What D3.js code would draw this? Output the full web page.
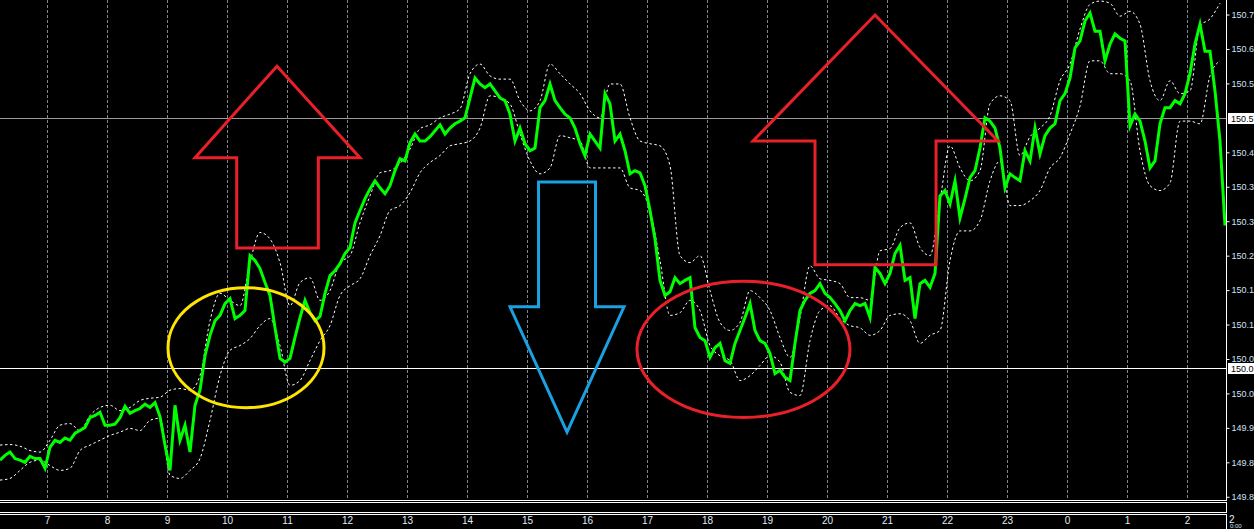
<!DOCTYPE html>
<meta charset="utf-8">
<style>
    body {
        margin: 0;
        background: #000;
        overflow: hidden;
    }

    text {
        font-family: "Liberation Sans", Arial, sans-serif;
    }

</style>
<svg id="canvas" width="1254" height="529"></svg>
<script src="https://d3js.org/d3.v7.min.js"></script>
<script>

    // USDJPY, M1 chart, one value every 5 minutes from 06:13
    var startTime = new Date(2023, 9, 17, 6, 13);
    var priceStep = 5;
    var price = [
        149.881, 149.890, 149.896, 149.884, 149.881, 149.877, 149.888, 149.884, 149.884, 149.866,
        149.905, 149.918, 149.914, 149.922, 149.918, 149.931, 149.936, 149.942, 149.960, 149.964,
        149.970, 149.946, 149.946, 149.948, 149.960, 149.981, 149.968, 149.973, 149.977, 149.985,
        149.979, 149.988, 149.962, 149.909, 149.862, 149.983, 149.918, 149.946, 149.896, 149.983,
        150.011, 150.075, 150.113, 150.140, 150.150, 150.172, 150.181, 150.144, 150.150, 150.159,
        150.261, 150.252, 150.237, 150.211, 150.187, 150.127, 150.070, 150.063, 150.070, 150.109,
        150.146, 150.178, 150.155, 150.140, 150.148, 150.191, 150.224, 150.233, 150.246, 150.265,
        150.276, 150.322, 150.345, 150.367, 150.385, 150.400, 150.387, 150.376, 150.391, 150.419,
        150.441, 150.437, 150.471, 150.487, 150.474, 150.474, 150.482, 150.493, 150.504, 150.487,
        150.498, 150.506, 150.511, 150.517, 150.554, 150.591, 150.580, 150.573, 150.580, 150.567,
        150.554, 150.549, 150.524, 150.474, 150.498, 150.469, 150.456, 150.461, 150.536, 150.549,
        150.580, 150.549, 150.536, 150.524, 150.517, 150.498, 150.469, 150.447, 150.487, 150.474,
        150.461, 150.562, 150.543, 150.474, 150.487, 150.456, 150.413, 150.419, 150.415, 150.391,
        150.345, 150.292, 150.215, 150.187, 150.194, 150.220, 150.209, 150.215, 150.220, 150.127,
        150.109, 150.103, 150.072, 150.090, 150.098, 150.066, 150.061, 150.098, 150.122, 150.146,
        150.172, 150.122, 150.103, 150.098, 150.079, 150.042, 150.048, 150.035, 150.029, 150.098,
        150.159, 150.178, 150.191, 150.196, 150.209, 150.191, 150.183, 150.172, 150.159, 150.140,
        150.159, 150.172, 150.168, 150.172, 150.146, 150.239, 150.228, 150.209, 150.228, 150.265,
        150.280, 150.215, 150.220, 150.144, 150.209, 150.215, 150.202, 150.228, 150.372, 150.382,
        150.357, 150.400, 150.331, 150.367, 150.406, 150.419, 150.461, 150.517, 150.511, 150.498,
        150.461, 150.387, 150.413, 150.406, 150.400, 150.456, 150.437, 150.498, 150.450, 150.484,
        150.498, 150.506, 150.549, 150.562, 150.591, 150.647, 150.660, 150.697, 150.712, 150.678,
        150.678, 150.623, 150.654, 150.673, 150.665, 150.660, 150.502, 150.524, 150.511, 150.474,
        150.424, 150.437, 150.506, 150.536, 150.536, 150.549, 150.543, 150.562, 150.599, 150.654,
        150.691, 150.641, 150.641, 150.567, 150.474, 150.317
    ];

    // envelope bands, one value every 10 minutes from 06:13
    var bandStep = 10;
    var upperBand = [
        149.909, 149.910, 149.907, 149.899, 149.896, 149.918, 149.946, 149.949, 149.936, 149.964,
        149.979, 149.983, 149.973, 149.979, 149.992, 149.996, 149.998, 150.011, 150.014, 150.011,
        150.038, 150.140, 150.191, 150.178, 150.168, 150.248, 150.304, 150.292, 150.248, 150.168,
        150.211, 150.220, 150.178, 150.196, 150.248, 150.261, 150.322, 150.372, 150.415, 150.419,
        150.432, 150.459, 150.497, 150.504, 150.517, 150.524, 150.534, 150.599, 150.617, 150.595,
        150.589, 150.589, 150.549, 150.530, 150.549, 150.617, 150.599, 150.580, 150.562, 150.530,
        150.517, 150.580, 150.580, 150.517, 150.474, 150.469, 150.465, 150.428, 150.261, 150.248,
        150.261, 150.196, 150.137, 150.122, 150.137, 150.196, 150.183, 150.159, 150.109, 150.072,
        150.146, 150.242, 150.218, 150.215, 150.209, 150.183, 150.183, 150.178, 150.270, 150.274,
        150.313, 150.322, 150.276, 150.261, 150.363, 150.465, 150.424, 150.400, 150.419, 150.543,
        150.558, 150.549, 150.447, 150.482, 150.498, 150.521, 150.586, 150.617, 150.682, 150.728,
        150.734, 150.730, 150.706, 150.715, 150.691, 150.586, 150.549, 150.586, 150.562, 150.567,
        150.688, 150.701, 150.730
    ];
    var lowerBand = [
        149.844, 149.847, 149.862, 149.877, 149.881, 149.871, 149.862, 149.866, 149.899, 149.909,
        149.918, 149.927, 149.933, 149.940, 149.936, 149.955, 149.959, 149.853, 149.847, 149.862,
        149.884, 149.955, 150.038, 150.085, 150.094, 150.107, 150.131, 150.144, 150.094, 150.020,
        150.029, 150.066, 150.103, 150.131, 150.187, 150.205, 150.218, 150.261, 150.298, 150.345,
        150.354, 150.378, 150.415, 150.434, 150.447, 150.465, 150.469, 150.474, 150.498, 150.558,
        150.554, 150.543, 150.487, 150.437, 150.413, 150.424, 150.484, 150.480, 150.474, 150.424,
        150.424, 150.424, 150.424, 150.387, 150.382, 150.345, 150.252, 150.150, 150.155, 150.178,
        150.159, 150.094, 150.075, 150.066, 150.029, 150.038, 150.057, 150.075, 150.063, 150.007,
        150.001, 150.103, 150.159, 150.168, 150.144, 150.131, 150.127, 150.113, 150.122, 150.150,
        150.153, 150.140, 150.098, 150.113, 150.122, 150.252, 150.307, 150.307, 150.326, 150.400,
        150.437, 150.354, 150.354, 150.363, 150.382, 150.424, 150.443, 150.487, 150.539, 150.623,
        150.623, 150.599, 150.599, 150.586, 150.456, 150.391, 150.382, 150.396, 150.511, 150.511,
        150.506, 150.595, 150.623
    ];

    // price axis labels (MT4 style grid step)
    var priceTicks = [149.813, 149.877, 149.941, 150.005, 150.069, 150.133, 150.197, 150.261,
                      150.325, 150.389, 150.453, 150.581, 150.645, 150.709];
    // horizontal lines with their marker boxes
    var levels = [
        {price: 150.517, color: "#9a9a9a"},
        {price: 150.052, color: "#ffffff"}
    ];

    // hand drawn annotations: [hour of day, price]
    var arrowSmallUp = [[10.833, 150.613], [12.217, 150.443], [11.522, 150.443], [11.522, 150.275],
                        [10.162, 150.275], [10.162, 150.443], [9.467, 150.443]];
    var arrowDown = [[15.192, 150.398], [16.142, 150.398], [16.142, 150.166], [16.617, 150.166],
                     [15.667, 149.933], [14.717, 150.166], [15.192, 150.166]];
    var arrowBigUp = [[20.8, 150.708], [22.85, 150.474], [21.817, 150.474], [21.817, 150.244],
                      [19.8, 150.244], [19.8, 150.474], [18.767, 150.474]];
    // ellipses: center hour, center price, half width in minutes, half height in price
    var ellipses = [
        {hour: 10.317, price: 150.090, rMin: 78, rPrice: 0.1115, color: "#ffe600"},
        {hour: 18.608, price: 150.087, rMin: 106.5, rPrice: 0.1265, color: "#e8202a"}
    ];

    var svg = d3.select("svg"),
        width = 1254,
        height = 529,
        plotW = 1226,
        plotH = 500;

    var endTime = new Date(startTime.getTime() + plotW * 60000);

    var x = d3.scaleTime().domain([startTime, endTime]).range([0, plotW]);
    var y = d3.scaleLinear().domain([149.807, 150.736]).range([plotH, 0]);

    // the price panel is too narrow for the whole quote, it shows the first decimal only
    var shortPrice = function(d) { return (Math.floor(d * 10 + 1e-6) / 10).toFixed(1); };

    var timeAt = function(i, step) { return new Date(startTime.getTime() + i * step * 60000); };
    var timeOfHour = function(h) {
        var d = new Date(startTime);
        d.setHours(0, 0, 0, 0);
        return new Date(d.getTime() + h * 3600000);
    };

    svg.append("rect").attr("width", width).attr("height", height).attr("fill", "#000");

    // vertical hour grid
    var hours = d3.timeHour.range(startTime, endTime);
    svg.append("g")
       .selectAll("line")
       .data(hours)
       .enter().append("line")
       .attr("x1", function(d) { return Math.round(x(d)) + 0.5; })
       .attr("x2", function(d) { return Math.round(x(d)) + 0.5; })
       .attr("y1", 0)
       .attr("y2", plotH - 1)
       .attr("stroke", "#7d8590")
       .attr("stroke-dasharray", "3,2");

    // level lines
    svg.append("g")
       .selectAll("line")
       .data(levels)
       .enter().append("line")
       .attr("x1", 0)
       .attr("x2", plotW)
       .attr("y1", function(d) { return Math.round(y(d.price)) + 0.5; })
       .attr("y2", function(d) { return Math.round(y(d.price)) + 0.5; })
       .attr("stroke", function(d) { return d.color; });

    // envelope
    var bandLine = d3.line()
                     .x(function(d, i) { return x(timeAt(i, bandStep)); })
                     .y(function(d) { return y(d); })
                     .curve(d3.curveMonotoneX);

    svg.append("g")
       .selectAll("path")
       .data([upperBand, lowerBand])
       .enter().append("path")
       .attr("d", bandLine)
       .attr("fill", "none")
       .attr("stroke", "#ffffff")
       .attr("stroke-width", 1)
       .attr("stroke-dasharray", "2.5,2.5");

    // price
    var priceLine = d3.line()
                      .x(function(d, i) { return x(timeAt(i, priceStep)); })
                      .y(function(d) { return y(d); });

    svg.append("path")
       .datum(price)
       .attr("d", priceLine)
       .attr("fill", "none")
       .attr("stroke", "#00ff00")
       .attr("stroke-width", 3)
       .attr("stroke-linejoin", "miter")
       .attr("stroke-miterlimit", 6);

    // annotations
    var shapeLine = d3.line()
                      .x(function(d) { return x(timeOfHour(d[0])); })
                      .y(function(d) { return y(d[1]); })
                      .curve(d3.curveLinearClosed);

    svg.append("path").attr("d", shapeLine(arrowSmallUp))
       .attr("fill", "none").attr("stroke", "#e8202a").attr("stroke-width", 3);
    svg.append("path").attr("d", shapeLine(arrowDown))
       .attr("fill", "none").attr("stroke", "#1ba1e2").attr("stroke-width", 3);
    svg.append("path").attr("d", shapeLine(arrowBigUp))
       .attr("fill", "none").attr("stroke", "#e8202a").attr("stroke-width", 3);

    svg.append("g")
       .selectAll("ellipse")
       .data(ellipses)
       .enter().append("ellipse")
       .attr("cx", function(d) { return x(timeOfHour(d.hour)); })
       .attr("cy", function(d) { return y(d.price); })
       .attr("rx", function(d) { return x(timeOfHour(d.hour + d.rMin / 60)) - x(timeOfHour(d.hour)); })
       .attr("ry", function(d) { return y(d.price - d.rPrice) - y(d.price); })
       .attr("fill", "none")
       .attr("stroke", function(d) { return d.color; })
       .attr("stroke-width", 3);

    // frame
    var frame = svg.append("g").attr("stroke", "#ffffff").attr("fill", "none");
    frame.append("line").attr("x1", plotW + 0.5).attr("x2", plotW + 0.5).attr("y1", 0).attr("y2", plotH + 1);
    frame.append("line").attr("x1", 0).attr("x2", plotW + 1).attr("y1", plotH + 0.5).attr("y2", plotH + 0.5);
    frame.append("rect").attr("x", -1).attr("y", 502.5).attr("width", plotW + 1.5).attr("height", 10);
    frame.append("line").attr("x1", 0).attr("x2", plotW + 1).attr("y1", 514.5).attr("y2", 514.5);
    frame.append("line").attr("x1", plotW + 0.5).attr("x2", plotW + 0.5).attr("y1", 514).attr("y2", height);

    // price axis
    var yAxis = d3.axisRight(y)
                  .tickValues(priceTicks)
                  .tickSize(3)
                  .tickPadding(2)
                  .tickFormat(shortPrice);

    var gy = svg.append("g")
                .attr("transform", "translate(" + (plotW + 0.5) + ",0)")
                .call(yAxis);
    gy.select(".domain").remove();
    gy.selectAll("line").attr("stroke", "#ffffff");
    gy.selectAll("text").attr("fill", "#cfe2f5").attr("font-size", 9).attr("font-family", "Liberation Sans");

    // level boxes
    var box = svg.append("g")
                 .selectAll("g")
                 .data(levels)
                 .enter().append("g")
                 .attr("transform", function(d) { return "translate(" + (plotW + 2) + "," + Math.round(y(d.price)) + ")"; });
    box.append("rect").attr("x", 0).attr("y", -5).attr("width", 30).attr("height", 11).attr("fill", "#ffffff");
    box.append("text").attr("x", 3).attr("y", 4).attr("font-size", 9).attr("fill", "#000")
       .text(function(d) { return shortPrice(d.price); });

    // time axis
    var xAxis = d3.axisBottom(x)
                  .tickValues(hours)
                  .tickSize(0)
                  .tickPadding(0)
                  .tickFormat(d3.timeFormat("%-H"));

    var gx = svg.append("g")
                .attr("transform", "translate(0,516)")
                .call(xAxis);
    gx.select(".domain").remove();
    gx.selectAll("text").attr("fill", "#e4ecf4").attr("font-size", 10).attr("font-family", "Liberation Sans")
      .attr("dy", "0.8em");

    // last bar marker in the corner
    svg.append("text").attr("x", plotW + 3).attr("y", 523).attr("font-size", 10).attr("fill", "#e4ecf4").text("2");
    svg.append("text").attr("x", plotW + 4).attr("y", 528).attr("font-size", 6).attr("fill", "#cfe2f5").text("0:00");

</script>
